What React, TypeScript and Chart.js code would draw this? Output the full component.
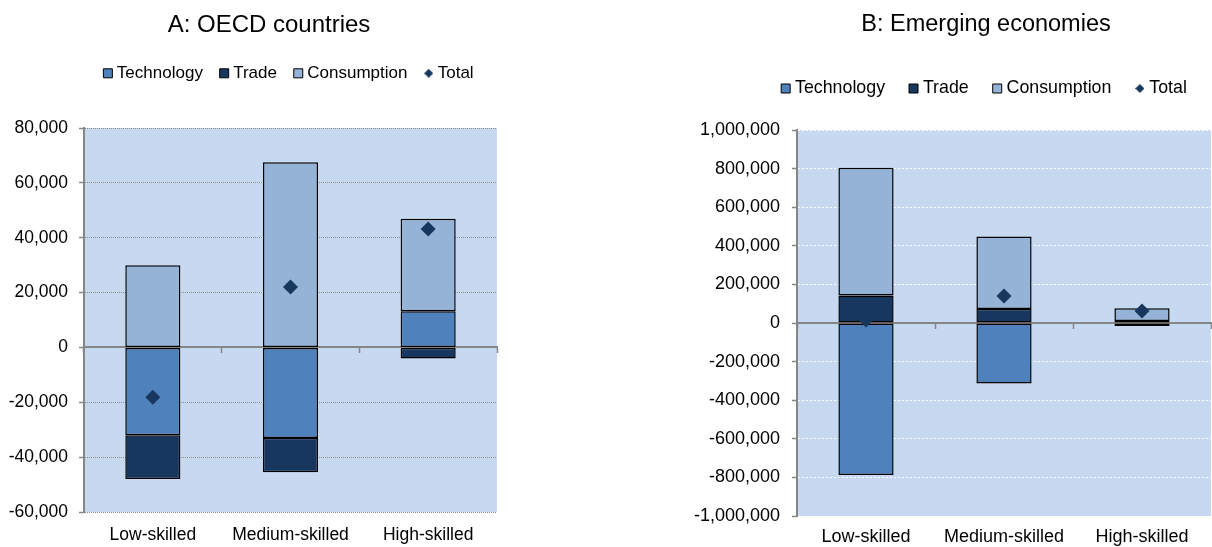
import React, { useEffect, useRef } from 'react';
import { Chart, registerables } from 'chart.js';

Chart.register(...registerables);
Chart.defaults.font.family = '"Liberation Sans", Arial, sans-serif';
Chart.defaults.color = '#000';

// ---------- data ----------
const categories = ['Low-skilled', 'Medium-skilled', 'High-skilled'];
const seriesNames = ['Technology', 'Trade', 'Consumption', 'Total'];

const oecdTitle = 'A: OECD countries';
const oecdTechnology = [-32000, -33000, 13200];
const oecdTrade = [-16000, -12500, -4000];
const oecdConsumption = [30000, 67500, 33700];
const oecdTotal = [-18200, 22000, 43200];
const oecdAxis = [-60000, 80000, 20000]; // min, max, step

const emergingTitle = 'B: Emerging economies';
const emergingTechnology = [-788000, -313000, 10000];
const emergingTrade = [142000, 72000, -15000];
const emergingConsumption = [663000, 376000, 66000];
const emergingTotal = [15000, 140000, 62000];
const emergingAxis = [-1000000, 1000000, 200000];

// ---------- styles ----------
const COLORS = {
  technology: '#4F81BD',
  trade: '#17375E',
  consumption: '#95B3D7',
  total: '#17375E',
  plot: '#C6D9F1',
  axis: '#868686',
};

const H = 547;

type Spec = {
  title: string;
  tech: number[];
  trade: number[];
  cons: number[];
  total: number[];
  axis: number[];
  canvasLeft: number;
  canvasWidth: number;
  plotLeft: number;
  plotRight: number;
  plotTop: number;
  plotBottom: number;
  gridColor: string;
  gridDash: number[];
  titleSize: number;
  titlePadTop: number;
  titlePadBottom: number;
  legendSize: number;
  legendPad: number;
  legendFull: boolean;
  tickSize: number;
  yLabelPad: number;
  xLabelPad: number;
};

const oecdSpec: Spec = {
  title: oecdTitle,
  tech: oecdTechnology,
  trade: oecdTrade,
  cons: oecdConsumption,
  total: oecdTotal,
  axis: oecdAxis,
  canvasLeft: 0,
  canvasWidth: 538,
  plotLeft: 84,
  plotRight: 497,
  plotTop: 128,
  plotBottom: 512,
  gridColor: '#8C8C8C',
  gridDash: [1, 1],
  titleSize: 24,
  titlePadTop: 10.6,
  titlePadBottom: 4.6,
  legendSize: 17,
  legendPad: 20.8,
  legendFull: false,
  tickSize: 17.5,
  yLabelPad: 11,
  xLabelPad: 13,
};

const emergingSpec: Spec = {
  title: emergingTitle,
  tech: emergingTechnology,
  trade: emergingTrade,
  cons: emergingConsumption,
  total: emergingTotal,
  axis: emergingAxis,
  canvasLeft: 606,
  canvasWidth: 760,
  plotLeft: 797,
  plotRight: 1211,
  plotTop: 130,
  plotBottom: 516,
  gridColor: '#FFFFFF',
  gridDash: [2, 2],
  titleSize: 23.5,
  titlePadTop: 10.9,
  titlePadBottom: 12.5,
  legendSize: 17.8,
  legendPad: 28,
  legendFull: true,
  tickSize: 18,
  yLabelPad: 12,
  xLabelPad: 10,
};

function makeDiamond(size: number, color: string): HTMLCanvasElement {
  const c = document.createElement('canvas');
  c.width = size;
  c.height = size;
  const g = c.getContext('2d')!;
  g.fillStyle = color;
  g.beginPath();
  g.moveTo(size / 2, 0);
  g.lineTo(size, size / 2);
  g.lineTo(size / 2, size);
  g.lineTo(0, size / 2);
  g.closePath();
  g.fill();
  return c;
}

const plotBackground = {
  id: 'plotBackground',
  beforeDraw(chart: any) {
    const { ctx, chartArea: a } = chart;
    ctx.save();
    ctx.fillStyle = COLORS.plot;
    ctx.fillRect(a.left, a.top, a.right - a.left, a.bottom - a.top);
    ctx.restore();
  },
};

function buildConfig(spec: Spec): any {
  const [min, max, step] = spec.axis;
  const diamond = makeDiamond(9, COLORS.total);
  const titleH = spec.titlePadTop + spec.titleSize * 1.2 + spec.titlePadBottom;
  const legendH = spec.legendSize + spec.legendPad + 10;
  const topGap = Math.max(0, spec.plotTop - titleH - legendH);
  const barCommon = {
    type: 'bar',
    borderColor: '#000000',
    borderWidth: 1.5,
    borderSkipped: false,
    barPercentage: 0.4,
    categoryPercentage: 1,
    stack: 'parts',
    order: 1,
  };
  return {
    type: 'bar',
    data: {
      labels: categories,
      datasets: [
        { ...barCommon, label: seriesNames[0], data: spec.tech, backgroundColor: COLORS.technology },
        { ...barCommon, label: seriesNames[1], data: spec.trade, backgroundColor: COLORS.trade },
        { ...barCommon, label: seriesNames[2], data: spec.cons, backgroundColor: COLORS.consumption },
        {
          type: 'line',
          label: seriesNames[3],
          data: spec.total,
          showLine: false,
          pointStyle: 'rectRot',
          pointRadius: 7.5,
          pointHoverRadius: 7.5,
          pointBorderWidth: 0,
          backgroundColor: COLORS.total,
          borderColor: COLORS.total,
          stack: 'total',
          order: 0,
        },
      ],
    },
    plugins: [plotBackground],
    options: {
      responsive: false,
      animation: false,
      devicePixelRatio: 1,
      events: [],
      layout: { padding: 0 },
      plugins: {
        title: {
          display: true,
          text: spec.title,
          color: '#000',
          font: { size: spec.titleSize, weight: 'normal' },
          padding: { top: spec.titlePadTop, bottom: spec.titlePadBottom },
        },
        legend: {
          display: true,
          position: 'top',
          fullSize: spec.legendFull,
          labels: {
            usePointStyle: true,
            boxWidth: 1,
            boxHeight: 9,
            padding: spec.legendPad,
            color: '#000',
            font: { size: spec.legendSize },
            generateLabels: () => [
              { text: seriesNames[0], fillStyle: COLORS.technology, strokeStyle: '#000', lineWidth: 1, pointStyle: 'rect', datasetIndex: 0, hidden: false },
              { text: seriesNames[1], fillStyle: COLORS.trade, strokeStyle: '#000', lineWidth: 1, pointStyle: 'rect', datasetIndex: 1, hidden: false },
              { text: seriesNames[2], fillStyle: COLORS.consumption, strokeStyle: '#000', lineWidth: 1, pointStyle: 'rect', datasetIndex: 2, hidden: false },
              { text: seriesNames[3], fillStyle: COLORS.total, strokeStyle: COLORS.total, lineWidth: 0, pointStyle: diamond, datasetIndex: 3, hidden: false },
            ],
          },
        },
        tooltip: { enabled: false },
      },
      scales: {
        x: {
          type: 'category',
          stacked: true,
          offset: true,
          grid: { display: false, drawTicks: false },
          border: { display: false },
          ticks: {
            color: '#000',
            font: { size: spec.tickSize },
            padding: spec.xLabelPad,
            maxRotation: 0,
            autoSkip: false,
          },
          afterFit: (s: any) => {
            s.height = H - spec.plotBottom;
          },
        },
        xTop: {
          type: 'category',
          position: 'top',
          offset: true,
          grid: { display: false, drawTicks: false },
          border: { display: false },
          ticks: { display: false },
          afterFit: (s: any) => {
            s.height = topGap;
          },
        },
        x2: {
          type: 'category',
          position: { y: 0 },
          offset: true,
          z: 1,
          grid: {
            display: true,
            offset: true,
            drawOnChartArea: false,
            drawTicks: true,
            tickLength: 5,
            tickWidth: 1.5,
            tickColor: COLORS.axis,
            color: COLORS.axis,
          },
          border: { display: true, color: COLORS.axis, width: 2 },
          ticks: { display: false },
        },
        y: {
          type: 'linear',
          stacked: true,
          min,
          max,
          ticks: {
            stepSize: step,
            autoSkip: false,
            color: '#000',
            font: { size: spec.tickSize },
            padding: spec.yLabelPad,
            callback: (v: any) => Number(v).toLocaleString('en-US'),
          },
          grid: {
            color: spec.gridColor,
            lineWidth: 1,
            drawTicks: true,
            tickLength: 5,
            tickColor: COLORS.axis,
            tickWidth: 1.5,
          },
          border: { display: true, color: COLORS.axis, width: 2, dash: spec.gridDash },
          afterFit: (s: any) => {
            s.width = spec.plotLeft - spec.canvasLeft;
            s.paddingRight = spec.canvasLeft + spec.canvasWidth - spec.plotRight;
          },
        },
      },
    },
  };
}

function Panel({ spec }: { spec: Spec }) {
  const ref = useRef<HTMLCanvasElement | null>(null);
  useEffect(() => {
    if (!ref.current) return;
    const chart = new Chart(ref.current, buildConfig(spec));
    return () => chart.destroy();
  }, [spec]);
  return (
    <canvas
      ref={ref}
      width={spec.canvasWidth}
      height={H}
      style={{ position: 'absolute', left: spec.canvasLeft, top: 0, width: spec.canvasWidth, height: H }}
    />
  );
}

export default function App() {
  return (
    <div
      style={{
        position: 'fixed',
        left: 0,
        top: 0,
        width: 1212,
        height: H,
        overflow: 'hidden',
        background: '#ffffff',
      }}
    >
      <Panel spec={oecdSpec} />
      <Panel spec={emergingSpec} />
    </div>
  );
}
